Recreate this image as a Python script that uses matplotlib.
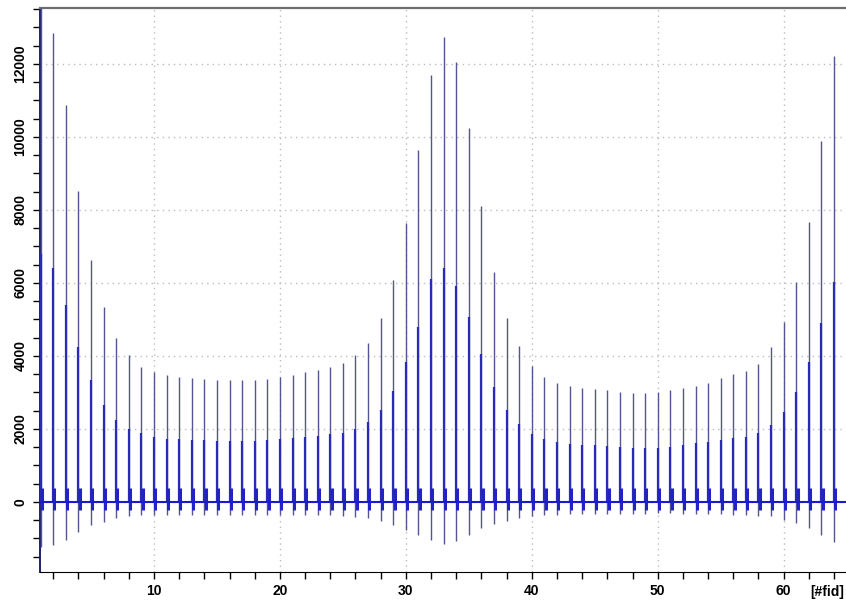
import matplotlib
matplotlib.use("Agg")
import matplotlib.pyplot as plt
from matplotlib.ticker import MultipleLocator

plt.rcParams['font.family'] = ['Liberation Sans', 'DejaVu Sans']

# ---- data: one spike per FID ----
fid = list(range(1, 65))
peak = [13600, 12850, 10880, 8520, 6630, 5340, 4490, 4030, 3700, 3560,
        3480, 3420, 3400, 3370, 3340, 3330, 3330, 3340, 3370, 3420,
        3480, 3560, 3620, 3700, 3800, 4030, 4360, 5040, 6080, 7640,
        9640, 11700, 12740, 12040, 10250, 8110, 6300, 5040, 4270, 3730,
        3420, 3260, 3180, 3120, 3100, 3070, 3010, 2990, 2990, 3010,
        3070, 3120, 3180, 3260, 3400, 3500, 3580, 3780, 4230, 4940,
        6020, 7680, 9880, 12220]
half = [6800, 6410, 5400, 4250, 3340, 2660, 2250, 2000, 1890, 1780,
        1730, 1710, 1700, 1690, 1670, 1660, 1660, 1670, 1690, 1710,
        1740, 1780, 1810, 1850, 1900, 2010, 2180, 2520, 3040, 3820,
        4790, 6110, 6400, 5920, 5070, 4050, 3150, 2520, 2130, 1860,
        1710, 1630, 1590, 1560, 1550, 1530, 1500, 1490, 1490, 1480,
        1510, 1560, 1620, 1640, 1700, 1750, 1780, 1890, 2110, 2470,
        3010, 3840, 4890, 6030]
neg = [-1230, -1180, -1040, -820, -630, -540, -440, -400, -370, -360,
       -360, -350, -350, -350, -350, -350, -350, -350, -350, -350,
       -350, -360, -360, -370, -380, -420, -450, -520, -620, -760,
       -900, -1050, -1150, -1080, -900, -720, -600, -520, -450, -400,
       -370, -350, -340, -330, -320, -320, -320, -320, -320, -310,
       -310, -320, -320, -330, -340, -350, -360, -380, -400, -490,
       -580, -710, -900, -1090]
base_hi = 380
base_lo = -230

fig = plt.figure(figsize=(8.46, 6.04), dpi=100)
ax = fig.add_axes([0.0473, 0.053, 0.9527, 0.9338])

# grid first so the traces sit on top
ax.grid(True, which='major', linestyle=(0, (1, 3)), color='#bdbdbd', linewidth=1)
ax.set_axisbelow(True)

# thin full-height spikes, thick lower part, blob at the baseline
ax.vlines(fid, neg, peak, color='#55558f', linewidth=1.0, zorder=3)
ax.vlines(fid, 0, half, color='#2a2ab8', linewidth=1.6, zorder=4)
ax.vlines([f + 0.1 for f in fid], base_lo, base_hi, color='#2323c4', linewidth=2.2, zorder=4)
ax.axhline(0, color='#1a1ad2', linewidth=1.5, zorder=5)

ax.set_xlim(0.95, 64.95)
ax.set_ylim(-1920, 13530)

ax.xaxis.set_major_locator(MultipleLocator(10))
ax.xaxis.set_minor_locator(MultipleLocator(2))
ax.yaxis.set_major_locator(MultipleLocator(2000))
ax.yaxis.set_minor_locator(MultipleLocator(500))
ax.set_xticks([10, 20, 30, 40, 50, 60])
ax.set_yticks([0, 2000, 4000, 6000, 8000, 10000, 12000])

ax.tick_params(which='both', direction='out', length=5, width=1, color='black')
ax.tick_params(axis='both', labelsize=10)
for lab in ax.get_xticklabels():
    lab.set_fontweight('bold')
for lab in ax.get_yticklabels():
    lab.set_fontweight('bold')
    lab.set_rotation(90)
    lab.set_verticalalignment('center')
ax.tick_params(axis='x', pad=4)
ax.tick_params(axis='y', pad=4)

ax.spines['right'].set_visible(False)
ax.spines['top'].set_color('#6e6e6e')
ax.spines['top'].set_linewidth(1.6)
ax.spines['left'].set_color('#1e1e6e')
ax.spines['left'].set_linewidth(1.4)
ax.spines['bottom'].set_color('black')

fig.text(827 / 846, 1 - 592 / 604, '[#fid]', ha='center', va='center',
         fontsize=10, fontweight='bold')

fig.savefig('out.png', dpi=100)
